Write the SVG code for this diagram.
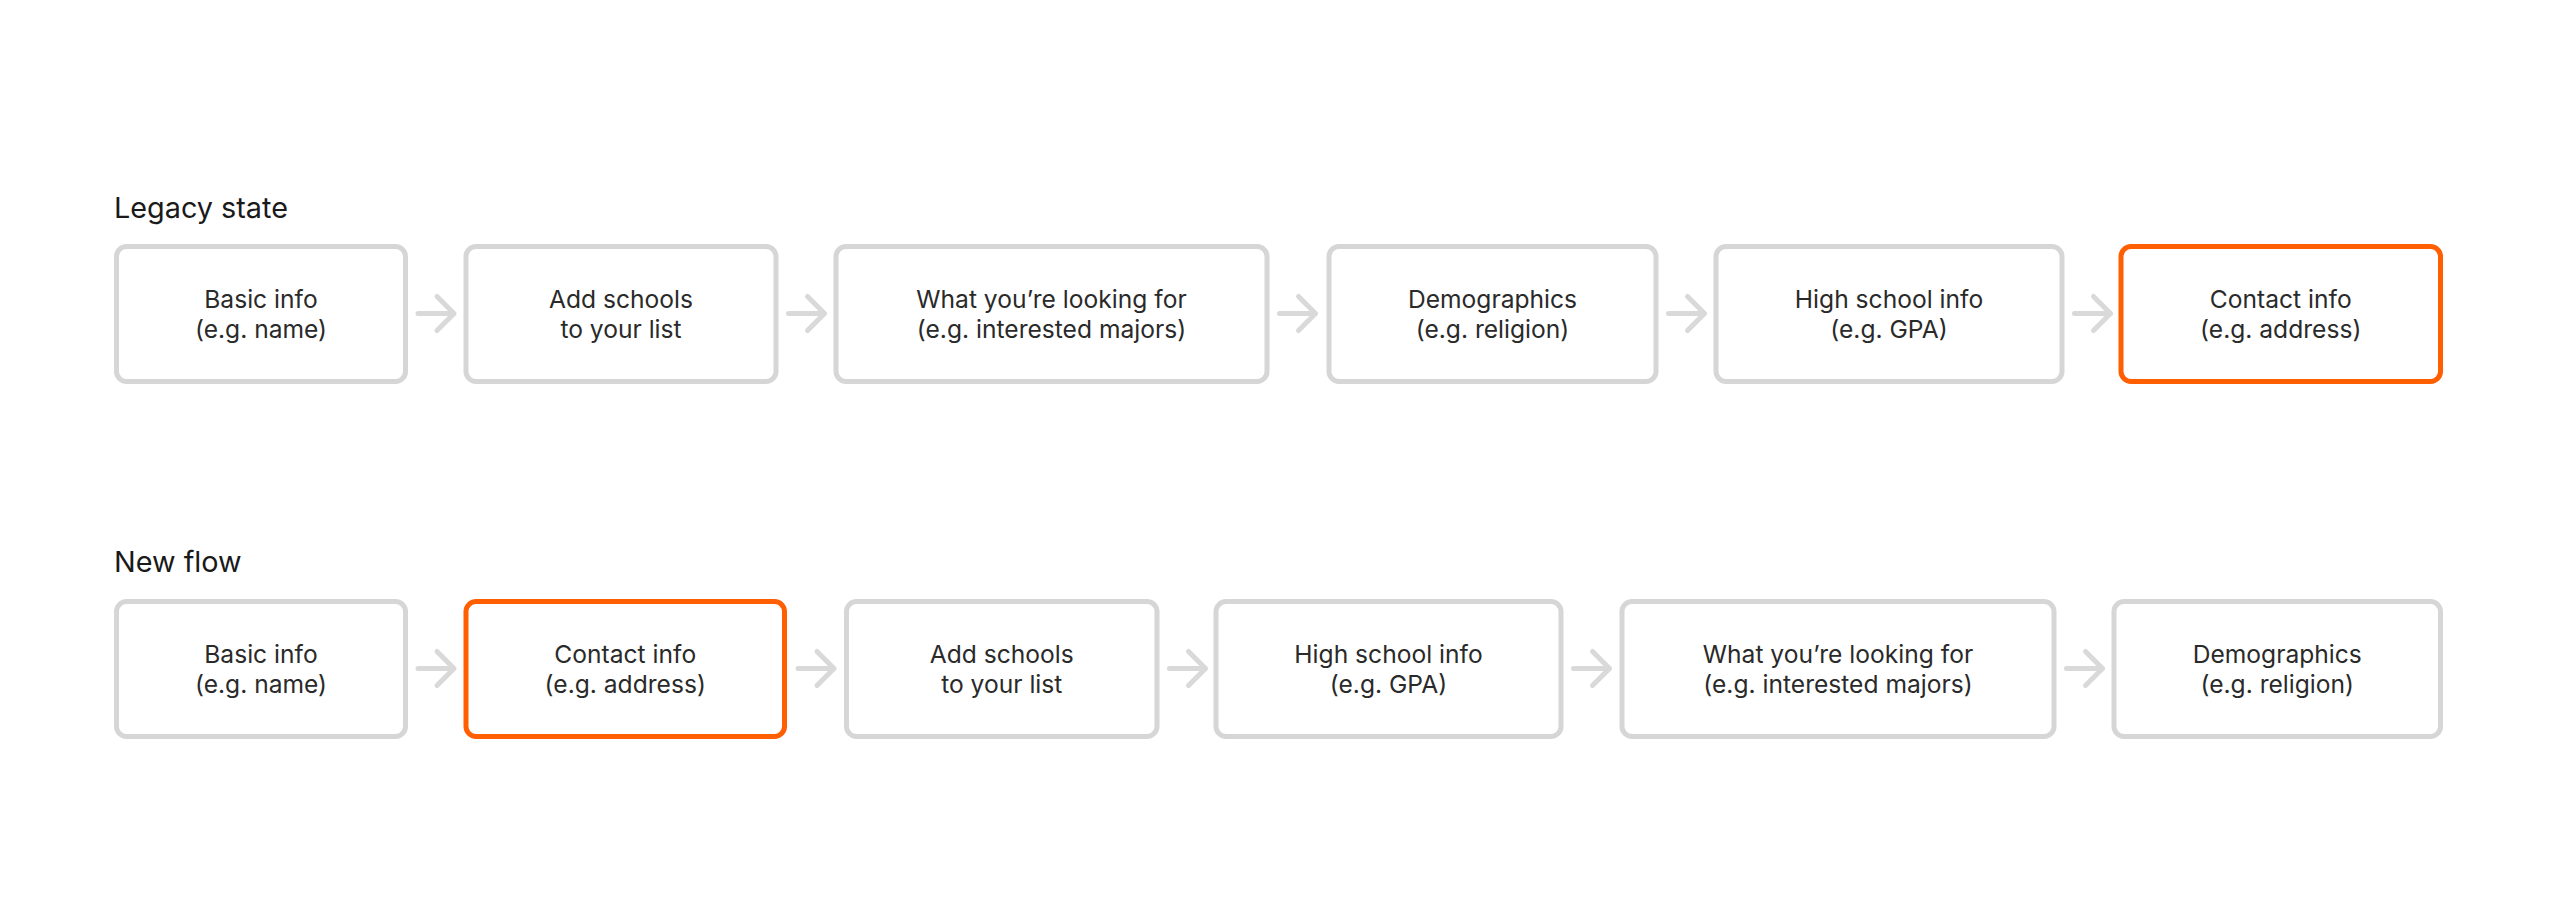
<svg xmlns="http://www.w3.org/2000/svg" width="2556" height="924" viewBox="0 0 2556 924">
<style>
.bg{fill:#ffffff}
.box{fill:#ffffff;stroke:#d6d6d6;stroke-width:5}
.hl{fill:#ffffff;stroke:#ff5f00;stroke-width:5}
.t{font-family:Inter,"Liberation Sans",sans-serif;font-size:24.6px;fill:#2a2a2a;text-anchor:middle}
.h{font-family:Inter,"Liberation Sans",sans-serif;font-size:28.8px;fill:#1a1a1a}
.arr{fill:none;stroke:#d9d9d9;stroke-width:5;stroke-linecap:round;stroke-linejoin:round}
</style>
<defs>
<path id="ar" class="arr" d="M0,0 H36 M19,-17 L36,0 L19,17"/>
</defs>
<rect class="bg" x="0" y="0" width="2556" height="924"/>
<text class="h" x="114" y="218">Legacy state</text>
<text class="h" x="114" y="572">New flow</text>

<g id="legacy-basic"><rect class="box" x="116.5" y="246.5" width="289" height="135" rx="10"/><text class="t" x="261" y="308">Basic info</text><text class="t" x="261" y="338">(e.g. name)</text></g>
<g id="legacy-schools"><rect class="box" x="466" y="246.5" width="310" height="135" rx="10"/><text class="t" x="621" y="308">Add schools</text><text class="t" x="621" y="338">to your list</text></g>
<g id="legacy-looking"><rect class="box" x="836" y="246.5" width="431" height="135" rx="10"/><text class="t" x="1051.5" y="308">What you’re looking for</text><text class="t" x="1051.5" y="338">(e.g. interested majors)</text></g>
<g id="legacy-demo"><rect class="box" x="1329" y="246.5" width="327" height="135" rx="10"/><text class="t" x="1492.5" y="308">Demographics</text><text class="t" x="1492.5" y="338">(e.g. religion)</text></g>
<g id="legacy-hs"><rect class="box" x="1716" y="246.5" width="346" height="135" rx="10"/><text class="t" x="1889" y="308">High school info</text><text class="t" x="1889" y="338">(e.g. GPA)</text></g>
<g id="legacy-contact"><rect class="hl" x="2121" y="246.5" width="319.5" height="135" rx="10"/><text class="t" x="2280.75" y="308">Contact info</text><text class="t" x="2280.75" y="338">(e.g. address)</text></g>

<g id="new-basic"><rect class="box" x="116.5" y="601.5" width="289" height="135" rx="10"/><text class="t" x="261" y="663">Basic info</text><text class="t" x="261" y="693">(e.g. name)</text></g>
<g id="new-contact"><rect class="hl" x="466" y="601.5" width="318.5" height="135" rx="10"/><text class="t" x="625.25" y="663">Contact info</text><text class="t" x="625.25" y="693">(e.g. address)</text></g>
<g id="new-schools"><rect class="box" x="846.5" y="601.5" width="310.5" height="135" rx="10"/><text class="t" x="1001.75" y="663">Add schools</text><text class="t" x="1001.75" y="693">to your list</text></g>
<g id="new-hs"><rect class="box" x="1216" y="601.5" width="345" height="135" rx="10"/><text class="t" x="1388.5" y="663">High school info</text><text class="t" x="1388.5" y="693">(e.g. GPA)</text></g>
<g id="new-looking"><rect class="box" x="1622" y="601.5" width="432" height="135" rx="10"/><text class="t" x="1838" y="663">What you’re looking for</text><text class="t" x="1838" y="693">(e.g. interested majors)</text></g>
<g id="new-demo"><rect class="box" x="2114" y="601.5" width="326.5" height="135" rx="10"/><text class="t" x="2277.25" y="663">Demographics</text><text class="t" x="2277.25" y="693">(e.g. religion)</text></g>

<g id="connectors">
<use href="#ar" x="418" y="313.5"/>
<use href="#ar" x="788.5" y="313.5"/>
<use href="#ar" x="1279.5" y="313.5"/>
<use href="#ar" x="1668.5" y="313.5"/>
<use href="#ar" x="2074.5" y="313.5"/>
<use href="#ar" x="418" y="668.5"/>
<use href="#ar" x="798" y="668.5"/>
<use href="#ar" x="1169.5" y="668.5"/>
<use href="#ar" x="1573.5" y="668.5"/>
<use href="#ar" x="2066.5" y="668.5"/>
</g>
</svg>
